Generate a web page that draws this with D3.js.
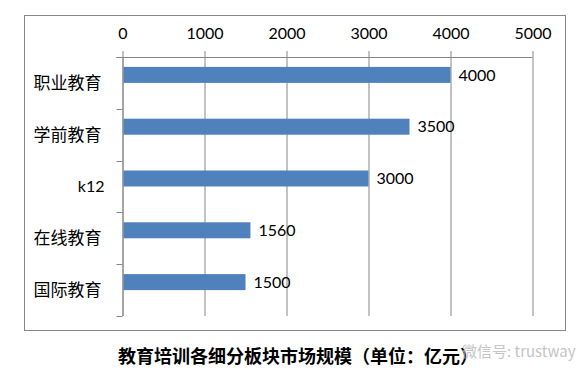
<!DOCTYPE html>
<html>
<head>
<meta charset="utf-8">
<script src="https://cdn.jsdelivr.net/npm/d3@7"></script>
<style>
  body { margin: 0; background: #fff; overflow: hidden; }
  svg { display: block; }
  text { font-family: Lato, "Noto Sans CJK SC", sans-serif; fill: #000; }
</style>
</head>
<body>
<div id="chart"></div>
<script>
const categories = ["职业教育", "学前教育", "k12", "在线教育", "国际教育"];
const values = [4000, 3500, 3000, 1560, 1500];
const xTicks = [0, 1000, 2000, 3000, 4000, 5000];
const title = "教育培训各细分板块市场规模（单位：亿元）";

const width = 588, height = 378;
const margin = {top: 57, left: 122.5, right: 55.5, bottom: 62};
const innerWidth = width - margin.left - margin.right,
      innerHeight = height - margin.top - margin.bottom;
const grey = "#868686";

const root = d3.select("#chart").append("svg")
  .attr("width", width)
  .attr("height", height);

// outer frame
root.append("rect")
  .attr("x", 24.5).attr("y", 15.5)
  .attr("width", 541).attr("height", 315)
  .attr("fill", "none").attr("stroke", grey);

const svg = root.append("g")
  .attr("transform", `translate(${margin.left}, ${margin.top})`);

const x = d3.scaleLinear().domain([0, 5000]).range([0, innerWidth]);
const y = d3.scaleBand().domain(categories).range([0, innerHeight]).padding(0);

// x axis on top, ticks stretched down as gridlines
const xAxis = svg.append("g")
  .call(d3.axisTop(x).tickValues(xTicks).tickFormat(d3.format("d"))
    .tickSize(6).tickSizeOuter(0).tickPadding(12));
xAxis.select(".domain").attr("stroke", grey).attr("d", `M-6,0.5H${innerWidth}`);
xAxis.selectAll(".tick line").attr("stroke", grey).attr("y1", innerHeight);
xAxis.selectAll(".tick text").style("font-size", "16px").style("font-family", "Lato, sans-serif");

// y axis line with ticks at band edges
const edges = categories.map(c => y(c)).concat([innerHeight]);
svg.append("line")
  .attr("x1", 0.5).attr("x2", 0.5).attr("y1", 0).attr("y2", innerHeight)
  .attr("stroke", grey);
svg.selectAll(".ytick").data(edges).join("line")
  .attr("class", "ytick")
  .attr("x1", -6).attr("x2", 0)
  .attr("y1", d => Math.round(d) + 0.5).attr("y2", d => Math.round(d) + 0.5)
  .attr("stroke", grey);

svg.selectAll(".ylabel").data(categories).join("text")
  .attr("class", "ylabel")
  .attr("x", d => /[a-z]/.test(d) ? -18 : -21)
  .attr("y", d => y(d) + y.bandwidth() / 2)
  .attr("dy", "0.35em")
  .attr("text-anchor", "end")
  .style("font-size", d => /[a-z]/.test(d) ? "16px" : "17px")
  .text(d => d);

// bars (sit in the upper half of each band)
const barH = 16;
svg.selectAll(".bar").data(values).join("rect")
  .attr("class", "bar")
  .attr("x", 1)
  .attr("y", (d, i) => y(categories[i]) + y.bandwidth() / 2 - barH)
  .attr("width", d => x(d) - 1)
  .attr("height", barH)
  .attr("fill", "#4F81BD");

svg.selectAll(".val").data(values).join("text")
  .attr("class", "val")
  .attr("x", d => x(d) + 8)
  .attr("y", (d, i) => y(categories[i]) + y.bandwidth() / 2 - barH / 2)
  .attr("dy", "0.35em")
  .style("font-size", "16px")
  .text(d => d);

// title
root.append("text")
  .attr("x", 298).attr("y", 357)
  .attr("dy", "0.35em")
  .attr("text-anchor", "middle")
  .style("font-size", "18px")
  .style("font-weight", "bold")
  .style("font-family", "'Noto Sans CJK SC', sans-serif")
  .text(title);

// watermark
root.append("text")
  .attr("x", 462).attr("y", 352)
  .attr("dy", "0.35em")
  .style("font-size", "15px")
  .style("fill", "#bbb")
  .style("opacity", 0.85)
  .style("font-family", "'Noto Sans CJK SC', sans-serif")
  .text("微信号: trustway");
</script>
</body>
</html>
